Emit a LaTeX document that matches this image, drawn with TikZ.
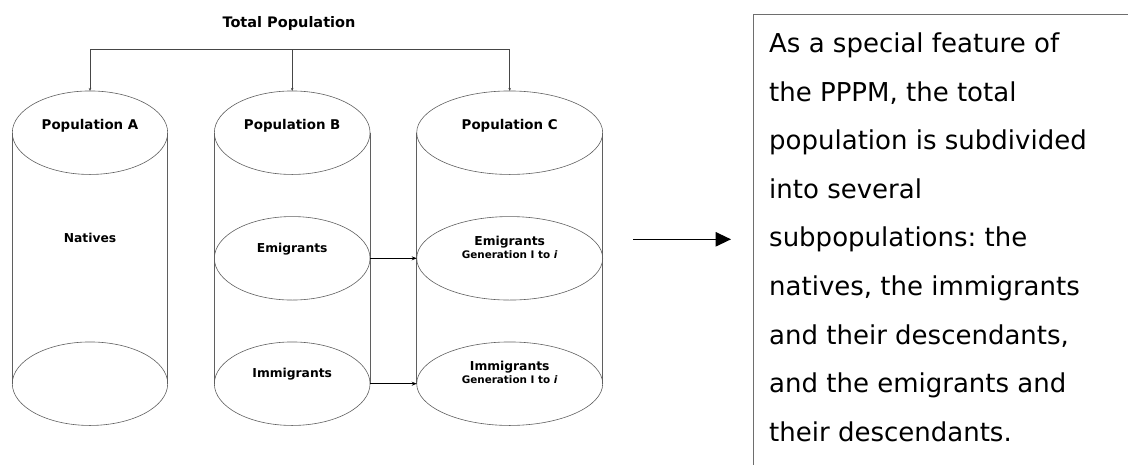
\documentclass[tikz,border=0pt]{standalone}
\usepackage{fontspec}
\setmainfont{DejaVu Sans}
\usetikzlibrary{arrows.meta,shapes.geometric}
\frenchspacing
\begin{document}
\begin{tikzpicture}[x=1pt,y=-1pt,
  cyl/.style={draw={rgb,255:red,95;green,95;blue,95}, line width=0.6pt},
  disc/.style={ellipse, cyl, minimum height=83.5pt, inner sep=0pt, outer sep=0pt},
  brk/.style={draw={rgb,255:red,70;green,70;blue,70}, line width=0.6pt},
  brkarr/.style={brk, -{Stealth[length=3pt,width=2.6pt]}},
  inarr/.style={draw=black, line width=1pt, -{Stealth[length=5pt,width=4pt]}},
  bigarr/.style={draw=black, line width=1.3pt, -{Triangle[length=15.5pt,width=14.5pt]}},
  boxline/.style={draw={rgb,255:red,110;green,110;blue,110}, line width=0.8pt},
  title/.style={font=\fontsize{14.5}{18}\selectfont\bfseries, inner sep=0pt},
  poplab/.style={font=\fontsize{13.4}{16}\selectfont\bfseries, inner sep=0pt},
  sublab/.style={font=\fontsize{12.3}{15}\selectfont\bfseries, inner sep=0pt},
  genlab/.style={font=\fontsize{10.4}{12}\selectfont\bfseries, inner sep=0pt},
  desc/.style={font=\fontsize{26}{48.6}\selectfont, align=left, inner sep=0pt, anchor=north west}
]
\useasboundingbox (0,0) rectangle (1128,464);

% Title and bracket
\node[title] (total) at (289,23) {Total Population};
\coordinate (brA) at (90,49.3);
\coordinate (brB) at (292.2,49.3);
\coordinate (brC) at (509.7,49.3);

% Cylinder A
\node[disc, minimum width=155.4pt] (Atop) at (90,132.7) {};
\node[disc, minimum width=155.4pt] (Abot) at (90,383.7) {};
\draw[cyl] (Atop.west) -- (Abot.west);
\draw[cyl] (Atop.east) -- (Abot.east);

% Cylinder B
\node[disc, minimum width=155.7pt] (Btop) at (292.2,132.7) {};
\node[disc, minimum width=155.7pt] (Bmid) at (292.2,258.3) {};
\node[disc, minimum width=155.7pt] (Bbot) at (292.2,383.7) {};
\draw[cyl] (Btop.west) -- (Bbot.west);
\draw[cyl] (Btop.east) -- (Bbot.east);

% Cylinder C
\node[disc, minimum width=186pt] (Ctop) at (509.7,132.7) {};
\node[disc, minimum width=186pt] (Cmid) at (509.7,258.3) {};
\node[disc, minimum width=186pt] (Cbot) at (509.7,383.7) {};
\draw[cyl] (Ctop.west) -- (Cbot.west);
\draw[cyl] (Ctop.east) -- (Cbot.east);

% Bracket connectors
\draw[brk] (brA) -- (brC);
\draw[brkarr] (brA) -- (Atop.north);
\draw[brkarr] (brB) -- (Btop.north);
\draw[brkarr] (brC) -- (Ctop.north);

% Labels
\node[poplab] (popA) at (90,125.7) {Population A};
\node[poplab] (popB) at (292.2,125.7) {Population B};
\node[poplab] (popC) at (509.7,125.7) {Population C};
\node[sublab] (natives) at (90,237.7) {Natives};
\node[sublab] (emiB) at (292.2,249) {Emigrants};
\node[sublab] (immB) at (292.2,374) {Immigrants};
\node[sublab] (emiC) at (509.7,241.7) {Emigrants};
\node[genlab] (emiCgen) at (509.7,254.3) {Generation I to \textit{i}};
\node[sublab] (immC) at (509.7,367.3) {Immigrants};
\node[genlab] (immCgen) at (509.7,379.3) {Generation I to \textit{i}};

% Flows between B and C
\draw[inarr] (Bmid.east) -- (Cmid.west);
\draw[inarr] (Bbot.east) -- (Cbot.west);

% Big arrow and text box
\coordinate (bigS) at (633.3,239.3);
\coordinate (bigE) at (731,239.3);
\draw[bigarr] (bigS) -- (bigE);
\coordinate (boxTR) at (1129,14);
\coordinate (boxTL) at (753.3,14);
\coordinate (boxBL) at (753.3,465);
\draw[boxline] (boxTR) -- (boxTL) -- (boxBL);
\node[desc] (text) at (769,32.5) {As a special feature of\\the PPPM, the total\\population is subdivided\\into several\\subpopulations: the\\natives, the immigrants\\and their descendants,\\and the emigrants and\\their descendants.};
\end{tikzpicture}
\end{document}
